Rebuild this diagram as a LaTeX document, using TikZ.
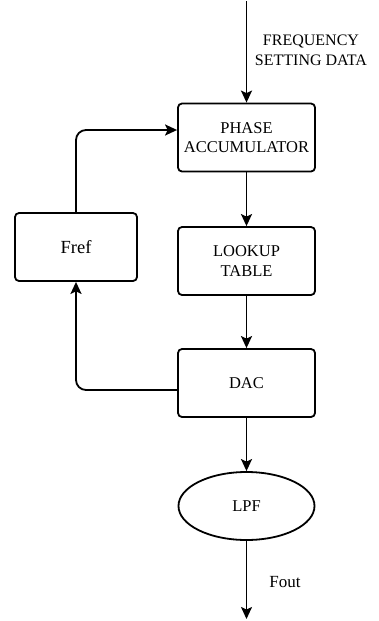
\documentclass[tikz,border=0pt]{standalone}
\usepackage{fontspec}
\setmainfont{Liberation Serif}
\usetikzlibrary{arrows.meta,shapes.geometric}
\begin{document}
\begin{tikzpicture}[x=1pt,y=-1pt,
  line width=1.8pt,
  arr/.style={-{Stealth[length=12pt,width=11pt,inset=2.5pt]}},
  blk/.style={draw, rounded corners=4pt, minimum width=137pt, minimum height=68pt, inner sep=0pt, align=center, font=\fontsize{16.5}{19.5}\selectfont},
  oval/.style={draw, ellipse, minimum width=136pt, minimum height=68pt, inner sep=0pt, font=\fontsize{16.5}{19.5}\selectfont},
  lbl/.style={align=center, inner sep=0pt}]
\useasboundingbox (0,0) rectangle (378,621);
\node[blk] (acc) at (246.5,137.5) {PHASE\\ACCUMULATOR};
\node[blk] (lut) at (246.5,261) {LOOKUP\\TABLE};
\node[blk] (dac) at (246.5,383) {DAC};
\node[blk, minimum width=122pt, font=\fontsize{18.5}{21}\selectfont] (fref) at (76,247) {Fref};
\node[oval] (lpf) at (246.5,506) {LPF};
\coordinate (top) at (246.5,1);
\coordinate (out) at (246.5,619);
\node[lbl, font=\fontsize{16}{20}\selectfont] (fsd) at (311,50) {FREQUENCY\\SETTING DATA};
\node[lbl, font=\fontsize{17}{20}\selectfont] (fout) at (285,582) {Fout};
\draw[arr] (top) -- (acc);
\draw[arr] (acc) -- (lut);
\draw[arr] (lut) -- (dac);
\draw[arr] (dac) -- (lpf);
\draw[arr] (lpf) -- (out);
\draw[arr, rounded corners=10pt] ([yshift=-7pt]dac.west) -| (fref.south);
\draw[arr, rounded corners=10pt] (fref.north) |- ([yshift=7.5pt]acc.west);
\end{tikzpicture}
\end{document}
